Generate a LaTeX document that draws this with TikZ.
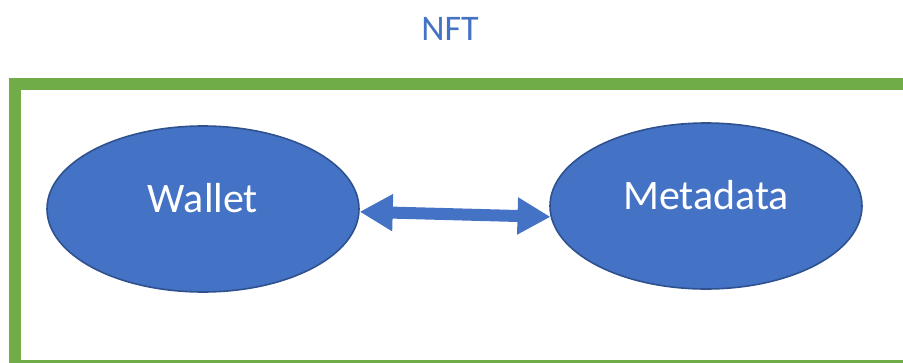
\documentclass[tikz,border=0pt]{standalone}
\usepackage{fontspec}
\setmainfont{Carlito}
\usetikzlibrary{shapes.geometric,arrows.meta}
\definecolor{nftblue}{HTML}{4472C4}
\definecolor{nftedge}{HTML}{2F528F}
\definecolor{nftgreen}{HTML}{70AD47}

\begin{document}
\begin{tikzpicture}[
   x=1pt,y=-1pt,
   frame/.style={draw=nftgreen,line width=12pt},
   oval/.style={ellipse,draw=nftedge,line width=1.6pt,fill=nftblue,text=white,
      minimum width=312pt,minimum height=166pt,inner sep=0pt,
      font=\fontsize{42}{48}\selectfont,text height=30pt,text depth=24pt},
   title/.style={text=nftblue,font=\fontsize{36}{42}\selectfont,anchor=base,inner sep=0pt},
   both/.style={{Triangle[length=33pt,width=35pt]}-{Triangle[length=33pt,width=35pt]},
      draw=nftblue,line width=12pt}]
\useasboundingbox (0,0) rectangle (903,362);
\clip (0,0) rectangle (903,362);
\node[title] (nft) at (450,40) {NFT};
\draw[frame] (15,84) rectangle (912,366);
\node[oval] (wallet) at (203,209) {Wallet};
\node[oval] (meta) at (706,206) {Metadata};
\draw[both] (wallet.-1) -- (meta.184);
\end{tikzpicture}
\end{document}
